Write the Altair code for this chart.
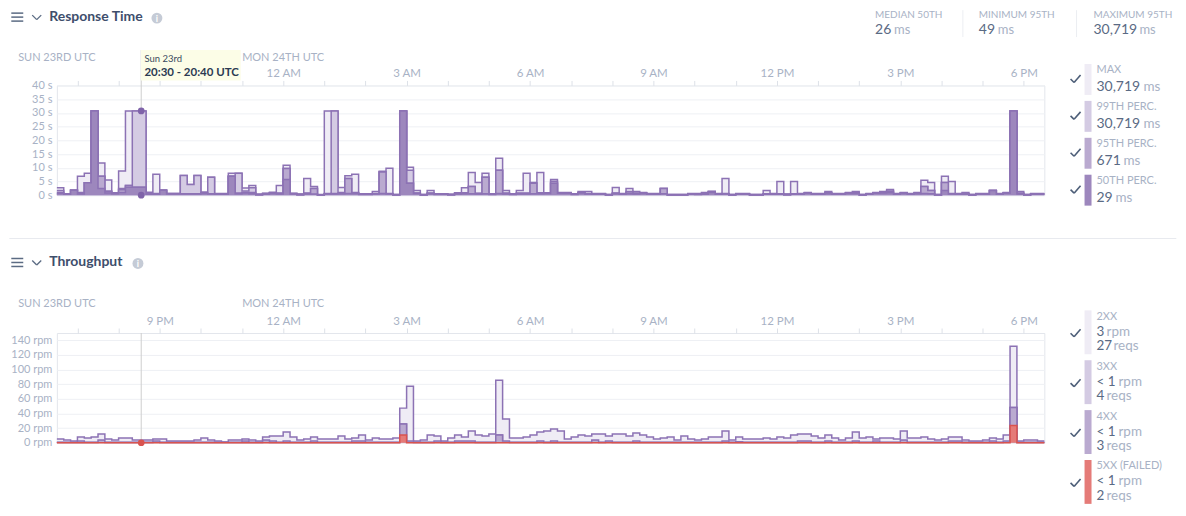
import altair as alt
import pandas as pd

# ---------------- data ----------------
START = "2024-06-23T18:30:00Z"
N_BINS = 144
BIN_MIN = 10

RT_MAX = [2.7, 0.5, 1.8, 6.9, 8.0, 30.7, 11.7, 5.5, 0.9, 8.8,
          30.7, 30.7, 30.7, 1.1, 7.6, 1.8, 0.6, 0.6, 7.2, 3.9,
          7.2, 1.1, 6.5, 0.6, 0.6, 8.0, 8.0, 2.6, 3.5, 0.3,
          0.7, 1.1, 3.5, 10.9, 0.7, 0.4, 6.1, 3.2, 0.2, 30.7,
          30.7, 2.8, 7.1, 7.6, 0.5, 0.5, 1.3, 8.7, 9.8, 0.2,
          30.7, 10.2, 1.7, 0.2, 1.7, 0.5, 0.5, 0.3, 0.9, 2.7,
          8.3, 4.6, 8.0, 0.5, 13.5, 1.7, 0.5, 1.7, 8.0, 4.6,
          8.3, 0.9, 5.7, 1.0, 1.0, 0.5, 1.3, 1.3, 0.6, 0.6,
          0.2, 2.8, 0.6, 2.4, 1.3, 1.0, 0.6, 0.6, 2.4, 0.2,
          0.2, 0.2, 0.6, 0.6, 1.0, 1.3, 0.6, 6.1, 0.2, 0.6,
          0.6, 0.2, 0.2, 1.7, 0.6, 5.0, 0.4, 5.0, 0.6, 1.0,
          0.6, 0.6, 1.3, 0.6, 0.6, 1.0, 1.3, 0.2, 0.6, 1.0,
          1.3, 2.1, 0.6, 1.0, 0.6, 1.0, 5.4, 4.6, 0.2, 6.9,
          5.0, 0.6, 1.0, 0.2, 0.6, 0.6, 1.7, 0.6, 1.0, 30.7,
          1.3, 0.2, 0.6, 0.6]
RT_P99 = [1.7, 0.4, 1.8, 1.0, 4.5, 30.7, 6.9, 1.5, 0.8, 2.4,
          3.5, 30.7, 30.7, 0.6, 0.6, 1.8, 0.6, 0.6, 7.2, 3.9,
          7.2, 1.1, 6.5, 0.5, 0.5, 6.9, 8.0, 1.5, 2.7, 0.3,
          0.6, 0.9, 0.8, 9.7, 0.6, 0.3, 0.8, 2.4, 0.1, 0.6,
          30.7, 1.0, 6.1, 1.0, 0.4, 0.4, 0.6, 8.4, 0.6, 0.2,
          30.7, 9.1, 0.8, 0.2, 0.8, 0.4, 0.4, 0.2, 0.7, 0.9,
          3.2, 0.7, 6.5, 0.4, 9.1, 0.8, 0.4, 0.8, 0.8, 4.3,
          0.9, 0.8, 5.1, 0.9, 0.9, 0.4, 1.0, 0.6, 0.5, 0.5,
          0.2, 0.8, 0.5, 1.3, 0.8, 0.9, 0.5, 0.5, 2.4, 0.2,
          0.2, 0.2, 0.5, 0.4, 0.6, 1.3, 0.5, 0.6, 0.2, 0.5,
          0.5, 0.2, 0.2, 0.5, 0.5, 0.5, 0.3, 0.5, 0.5, 0.9,
          0.5, 0.5, 0.9, 0.5, 0.5, 0.9, 0.9, 0.2, 0.5, 0.9,
          1.0, 1.5, 0.5, 0.9, 0.5, 0.8, 3.2, 1.7, 0.2, 4.6,
          0.6, 0.5, 0.6, 0.2, 0.5, 0.5, 1.7, 0.5, 0.9, 30.7,
          0.8, 0.2, 0.5, 0.5]
RT_P95 = [1.0, 0.4, 1.8, 0.7, 4.5, 30.7, 6.9, 1.2, 0.7, 2.0,
          3.5, 2.9, 2.9, 0.5, 0.5, 1.8, 0.5, 0.5, 0.5, 0.5,
          0.5, 0.8, 0.5, 0.4, 0.4, 6.9, 0.8, 1.0, 1.0, 0.2,
          0.5, 0.8, 0.6, 9.7, 0.5, 0.2, 0.6, 2.4, 0.1, 0.5,
          0.6, 0.8, 6.1, 0.9, 0.3, 0.3, 0.5, 8.4, 0.5, 0.1,
          30.7, 4.3, 0.7, 0.1, 0.7, 0.3, 0.3, 0.2, 0.6, 0.7,
          3.2, 0.6, 6.5, 0.3, 9.1, 0.6, 0.3, 0.6, 0.6, 4.3,
          0.7, 0.7, 4.3, 0.8, 0.8, 0.3, 0.9, 0.5, 0.4, 0.4,
          0.1, 0.7, 0.4, 0.8, 0.6, 0.8, 0.4, 0.4, 2.4, 0.1,
          0.1, 0.1, 0.4, 0.3, 0.5, 1.3, 0.4, 0.5, 0.1, 0.4,
          0.4, 0.1, 0.1, 0.4, 0.4, 0.4, 0.2, 0.4, 0.4, 0.8,
          0.4, 0.4, 0.7, 0.4, 0.4, 0.8, 0.8, 0.1, 0.4, 0.8,
          0.9, 1.3, 0.4, 0.8, 0.4, 0.7, 3.2, 1.7, 0.1, 4.6,
          0.5, 0.4, 0.5, 0.1, 0.4, 0.4, 1.7, 0.4, 0.8, 30.7,
          0.6, 0.1, 0.4, 0.4]
RT_P50 = [0.6, 0.3, 1.8, 0.4, 4.5, 30.7, 2.4, 0.8, 0.5, 1.0,
          2.9, 2.9, 2.9, 0.3, 0.3, 1.8, 0.4, 0.4, 0.4, 0.4,
          0.4, 0.6, 0.4, 0.3, 0.3, 6.9, 0.5, 0.8, 0.5, 0.1,
          0.3, 0.6, 0.4, 5.7, 0.4, 0.1, 0.4, 0.4, 0.1, 0.4,
          0.4, 0.5, 0.6, 0.6, 0.2, 0.2, 0.4, 0.6, 0.4, 0.1,
          30.7, 4.3, 0.6, 0.1, 0.5, 0.2, 0.2, 0.1, 0.4, 0.5,
          0.5, 0.4, 0.5, 0.2, 0.6, 0.4, 0.2, 0.4, 0.4, 0.5,
          0.5, 0.6, 4.3, 0.7, 0.7, 0.2, 0.8, 0.4, 0.3, 0.3,
          0.1, 0.5, 0.3, 0.5, 0.4, 0.6, 0.3, 0.3, 0.5, 0.1,
          0.1, 0.1, 0.3, 0.2, 0.3, 1.0, 0.3, 0.4, 0.1, 0.3,
          0.3, 0.1, 0.1, 0.3, 0.3, 0.3, 0.1, 0.3, 0.3, 0.7,
          0.3, 0.3, 0.5, 0.3, 0.3, 0.6, 0.6, 0.1, 0.3, 0.7,
          0.8, 0.9, 0.3, 0.6, 0.3, 0.5, 0.6, 0.5, 0.1, 1.7,
          0.4, 0.3, 0.3, 0.1, 0.3, 0.3, 1.7, 0.3, 0.7, 30.7,
          0.4, 0.1, 0.3, 0.3]

TP_2XX = [5.0, 3.6, 2.3, 7.7, 6.4, 7.7, 11.8, 5.0, 3.6, 6.4,
          6.4, 3.6, 3.6, 3.6, 5.0, 5.0, 2.3, 2.3, 2.3, 2.3,
          3.6, 6.4, 3.6, 2.3, 0.9, 3.6, 3.6, 5.0, 3.6, 2.3,
          7.7, 9.1, 9.1, 14.5, 7.7, 3.6, 5.0, 7.7, 5.0, 5.0,
          5.0, 9.1, 5.0, 6.4, 10.5, 3.6, 6.4, 5.0, 5.0, 6.4,
          47.3, 77.3, 2.3, 3.6, 10.5, 9.1, 2.3, 6.4, 10.5, 7.7,
          15.9, 10.5, 9.1, 11.8, 85.5, 32.3, 6.4, 6.4, 7.7, 10.5,
          14.5, 15.9, 18.6, 15.9, 5.0, 7.7, 10.5, 9.1, 11.8, 11.8,
          9.1, 11.8, 11.8, 9.1, 13.2, 10.5, 7.7, 5.0, 6.4, 7.7,
          3.6, 9.1, 5.0, 3.6, 5.0, 7.7, 7.7, 15.9, 3.6, 7.7,
          5.0, 5.0, 5.0, 6.4, 5.0, 7.7, 6.4, 10.5, 11.8, 11.8,
          9.1, 6.4, 10.5, 6.4, 3.6, 6.4, 14.5, 6.4, 7.7, 5.0,
          6.4, 6.4, 5.0, 15.9, 6.4, 6.4, 7.7, 5.0, 3.6, 5.0,
          7.7, 7.7, 3.6, 2.3, 2.3, 3.6, 6.4, 5.0, 10.5, 131.8,
          2.3, 3.6, 3.6, 2.3]
TP_3XX = [0.8, 0.8, 0.8, 2.3, 0.8, 0.8, 0.8, 0.8, 0.8, 0.8,
          0.8, 0.8, 0.8, 0.8, 0.8, 0.8, 0.8, 0.8, 0.8, 0.8,
          0.8, 0.8, 0.8, 0.8, 0.8, 0.8, 0.8, 2.3, 0.8, 0.8,
          0.8, 2.3, 0.8, 2.3, 0.8, 0.8, 0.8, 2.3, 0.8, 0.8,
          0.8, 0.8, 0.8, 2.3, 2.3, 0.8, 0.8, 0.8, 0.8, 0.8,
          25.5, 0.8, 0.8, 0.8, 0.8, 0.8, 0.8, 0.8, 0.8, 0.8,
          0.8, 0.8, 0.8, 0.8, 10.5, 0.8, 0.8, 0.8, 0.8, 0.8,
          0.8, 0.8, 2.3, 0.8, 0.8, 0.8, 0.8, 0.8, 0.8, 0.8,
          0.8, 0.8, 0.8, 0.8, 2.3, 0.8, 0.8, 0.8, 0.8, 0.8,
          0.8, 0.8, 0.8, 0.8, 0.8, 0.8, 0.8, 0.8, 0.8, 1.5,
          0.8, 0.8, 0.8, 0.8, 0.8, 0.8, 0.8, 0.8, 0.8, 0.8,
          0.8, 0.8, 0.8, 0.8, 0.8, 0.8, 0.8, 0.8, 0.8, 2.3,
          0.8, 0.8, 0.8, 0.8, 0.8, 0.8, 0.8, 0.8, 0.8, 0.8,
          0.8, 0.8, 0.8, 0.8, 0.8, 0.8, 2.3, 0.8, 0.8, 48.2,
          0.8, 0.8, 0.8, 0.8]
TP_4XX = [0.4, 0.4, 0.4, 0.4, 0.4, 0.4, 3.6, 0.4, 0.4, 0.4,
          0.4, 0.4, 0.4, 0.4, 2.3, 0.4, 0.4, 0.4, 0.4, 0.4,
          0.4, 0.4, 0.4, 0.4, 0.4, 0.4, 0.4, 0.4, 0.4, 0.4,
          3.6, 0.4, 0.4, 0.4, 0.4, 0.4, 0.4, 0.4, 0.4, 0.4,
          0.4, 0.4, 0.4, 0.4, 0.4, 0.4, 0.4, 0.4, 0.4, 0.4,
          25.5, 2.3, 0.4, 0.4, 0.4, 2.3, 0.4, 0.4, 2.3, 2.3,
          2.3, 0.4, 0.4, 0.4, 10.5, 2.3, 0.4, 0.4, 0.4, 0.4,
          2.3, 0.4, 0.4, 0.4, 0.4, 0.4, 0.4, 0.4, 3.6, 0.4,
          2.3, 0.4, 0.4, 0.4, 0.4, 0.4, 0.4, 0.4, 0.4, 0.4,
          0.4, 0.4, 0.4, 0.4, 0.4, 0.4, 0.4, 2.3, 0.4, 0.4,
          0.4, 0.4, 0.4, 0.4, 0.4, 0.4, 0.4, 0.4, 2.3, 2.3,
          0.4, 0.4, 2.3, 0.4, 0.4, 0.4, 2.3, 0.4, 0.4, 0.4,
          0.4, 0.4, 0.4, 3.6, 0.4, 0.4, 0.4, 0.4, 0.4, 0.4,
          2.3, 2.3, 0.4, 0.4, 0.4, 0.4, 0.4, 0.4, 2.3, 48.2,
          0.4, 0.4, 0.4, 0.4]
TP_5XX = [0.0] * 50 + [10.5] + [0.0] * 88 + [23.6] + [0.0] * 4

HOVER_T = "2024-06-23T20:33:00Z"
HOVER_BIN = 12

RT_LEGEND = [("MAX", "30,719", "ms"), ("99TH PERC.", "30,719", "ms"),
             ("95TH PERC.", "671", "ms"), ("50TH PERC.", "29", "ms")]
TP_LEGEND = [("2XX", "3", "rpm", "27", "reqs"), ("3XX", "< 1", "rpm", "4", "reqs"),
             ("4XX", "< 1", "rpm", "3", "reqs"), ("5XX (FAILED)", "< 1", "rpm", "2", "reqs")]
STATS = [("MEDIAN 50TH", "26", "ms"), ("MINIMUM 95TH", "49", "ms"), ("MAXIMUM 95TH", "30,719", "ms")]

# ---------------- tables ----------------
t0 = pd.Timestamp(START)
times = [t0 + pd.Timedelta(minutes=BIN_MIN * i) for i in range(N_BINS + 1)]
tstr = [t.strftime("%Y-%m-%dT%H:%M:%SZ") for t in times]


def table(cols):
    d = {"t": tstr}
    for k, v in cols.items():
        d[k] = list(v) + [v[-1]]
    return pd.DataFrame(d)


rt = table({"mx": RT_MAX, "p99": RT_P99, "p95": RT_P95, "p50": RT_P50})
tp = table({"s2": TP_2XX, "s3": TP_3XX, "s4": TP_4XX, "s5": TP_5XX})

T0 = int(times[0].value // 10**6)
T1 = int(times[-1].value // 10**6)
HOURS = [int((t0 + pd.Timedelta(minutes=30 + 60 * h)).value // 10**6) for h in range(24)]
midnight = "2024-06-24T00:00:00Z"
dates = pd.DataFrame({"t": [tstr[0], midnight], "lab": ["SUN 23RD UTC", "MON 24TH UTC"]})

# ---------------- style ----------------
FONT = "Lato"
C_TITLE = "#3e4e6c"
C_VAL = "#5a6a84"
C_LIGHT = "#a8b2c5"
C_GRID = "#eef0f4"
C_CHECK = "#4d5e78"
STROKE = "#8c72b4"
F_MAX, F_99, F_95, F_50 = "#efecf5", "#d4cbe3", "#baaad0", "#9d87bd"
F_5XX, S_5XX = "#e57b78", "#d9534f"

OX = 55.7
OY1 = 83.5
OY2 = 331.7
W = 990
H = 110

ONE = pd.DataFrame({"k": [0]})
XS = alt.Scale(type="utc", domain=[T0, T1])


def xaxis(skip21):
    cond = "utchours(datum.value) % 3 == 0"
    if skip21:
        cond += " && utchours(datum.value) != 21"
    return alt.Axis(orient="top", values=HOURS, domain=False, grid=False, tickSize=5,
                    tickColor="#dde1e8", labelPadding=2, labelColor=C_LIGHT, labelFont=FONT,
                    labelFontSize=11.5, labelFlush=False, labelOverlap=False, title=None,
                    labelExpr="(" + cond + ") ? utcFormat(datum.value, '%-I %p') : ''")


def yaxis(vals, unit):
    return alt.Axis(values=vals, ticks=False, domain=False, labelPadding=5, grid=True,
                    gridColor=C_GRID, labelColor=C_LIGHT, labelFont=FONT, labelFontSize=11,
                    labelFlush=False, labelOverlap=False, title=None,
                    labelExpr="datum.value + ' " + unit + "'")


def T(x, y, s, oy, size=11, color=C_LIGHT, weight="normal", align="left", baseline="middle",
      font=FONT):
    return alt.Chart(ONE).mark_text(text=s, fontSize=size, color=color, fontWeight=weight,
                                    align=align, baseline=baseline, font=font).encode(
        x=alt.value(x - OX), y=alt.value(y - oy))


def R(x1, y1, x2, y2, oy, color, w=1.0):
    return alt.Chart(ONE).mark_rule(color=color, strokeWidth=w).encode(
        x=alt.value(x1 - OX), y=alt.value(y1 - oy), x2=alt.value(x2 - OX), y2=alt.value(y2 - oy))


def RECT(x1, y1, x2, y2, oy, color, opacity=1.0):
    return alt.Chart(ONE).mark_rect(color=color, opacity=opacity).encode(
        x=alt.value(x1 - OX), y=alt.value(y1 - oy), x2=alt.value(x2 - OX), y2=alt.value(y2 - oy))


def DOT(x, y, oy, color, size):
    return alt.Chart(ONE).mark_circle(color=color, size=size, opacity=1).encode(
        x=alt.value(x - OX), y=alt.value(y - oy))


def CHECK(x, y, oy):
    return [R(x - 5, y, x - 1.5, y + 3.5, oy, C_CHECK, 1.6),
            R(x - 1.5, y + 3.5, x + 5, y - 4, oy, C_CHECK, 1.6)]


def header(title, ty, info_x, oy):
    c = "#5b6b83"
    return [R(10, ty - 4, 22, ty - 4, oy, c, 1.5),
            R(10, ty, 22, ty, oy, c, 1.5),
            R(10, ty + 4, 22, ty + 4, oy, c, 1.5),
            R(31, ty - 2, 35.5, ty + 2.5, oy, c, 1.3),
            R(35.5, ty + 2.5, 40, ty - 2, oy, c, 1.3),
            T(48, ty, title, oy, size=14, color=C_TITLE, weight="bold"),
            DOT(info_x, ty + 1, oy, "#c5cbd6", 120),
            T(info_x, ty + 1.5, "i", oy, size=9, color="white", weight="bold", align="center")]


class Panel:
    def __init__(self, skip21, yscale, yvals, unit):
        self.X = alt.X("t:T", scale=XS, axis=xaxis(skip21), title=None)
        self.ys = yscale
        self.yax = yaxis(yvals, unit)

    def Y(self, field):
        return alt.Y(field + ":Q", scale=self.ys, axis=self.yax, title=None)

    def series(self, df, field, fill, stroke, sw=1.5):
        a = alt.Chart(df).mark_area(interpolate="step-after", color=fill, opacity=1).encode(
            x=self.X, y=self.Y(field))
        l = alt.Chart(df).mark_line(interpolate="step-after", color=stroke, strokeWidth=sw).encode(
            x=self.X, y=self.Y(field))
        return [a, l]


# ---------------- top panel ----------------
P1 = Panel(True, alt.Scale(domain=[0, 40], nice=False), list(range(0, 41, 5)), "s")
hover = pd.DataFrame({"t": [HOVER_T, HOVER_T], "v": [RT_P99[HOVER_BIN], 0]})
hover_t = pd.DataFrame({"t": [HOVER_T]})

top_layers = []
top_layers.append(alt.Chart(hover_t).mark_rule(color="#cfcfcf", strokeWidth=1).encode(
    x=P1.X, y=alt.value(48 - OY1), y2=alt.value(H)))
top_layers += P1.series(rt, "mx", F_MAX, STROKE)
top_layers += P1.series(rt, "p99", F_99, STROKE)
top_layers += P1.series(rt, "p95", F_95, STROKE)
top_layers += P1.series(rt, "p50", F_50, STROKE)
top_layers.append(alt.Chart(hover).mark_circle(color="#7f63a9", size=45, opacity=1).encode(
    x=P1.X, y=P1.Y("v")))
top_layers.append(alt.Chart(dates).mark_text(fontSize=11, color=C_LIGHT, font=FONT).encode(
    x=P1.X, y=alt.value(56 - OY1), text="lab:N"))
# tooltip
top_layers.append(RECT(140, 48, 240, 78.5, OY1, "#fcfde7"))
top_layers.append(T(143.5, 57, "Sun 23rd", OY1, size=9.5, color="#3a4a60"))
top_layers.append(T(143.5, 71, "20:30 - 20:40 UTC", OY1, size=11.5, color="#2b3a52", weight="bold"))
# header
top_layers += header("Response Time", 15, 156, OY1)
stat_x = [876, 980, 1095]
unit_dx = [19, 19, 46]
for (lab, val, unit), sx, dx in zip(STATS, stat_x, unit_dx):
    top_layers.append(T(sx, 8, lab, OY1, size=10, baseline="top"))
    top_layers.append(T(sx, 27.5, val, OY1, size=14, color=C_VAL))
    top_layers.append(T(sx + dx, 27.5, unit, OY1, size=13, color=C_LIGHT))
top_layers.append(R(964, 8, 964, 35, OY1, "#eceef2"))
top_layers.append(R(1078, 8, 1078, 35, OY1, "#eceef2"))
# legend
rt_sw = [F_MAX, F_99, F_95, F_50]
rt_unit_x = [1145, 1145, 1125, 1117]
for i, ((lab, val, unit), c, ux) in enumerate(zip(RT_LEGEND, rt_sw, rt_unit_x)):
    y0 = 62 + 37 * i
    top_layers.append(RECT(1086, y0, 1093, y0 + 31, OY1, c))
    top_layers += CHECK(1077, y0 + 15, OY1)
    top_layers.append(T(1098, y0 + 6.5, lab, OY1, size=11))
    top_layers.append(T(1098, y0 + 23, val, OY1, size=14, color=C_VAL))
    top_layers.append(T(ux, y0 + 23, unit, OY1, size=13.5, color=C_LIGHT))
# layout anchor (invisible)
top_layers.append(RECT(8, 8, 9, 9, OY1, "white", opacity=0))

top = alt.layer(*top_layers).properties(width=W, height=H)

# ---------------- bottom panel ----------------
P2 = Panel(False, alt.Scale(domain=[0, 150], nice=False), list(range(0, 141, 20)), "rpm")
red = pd.DataFrame({"t": [HOVER_T], "v": [TP_5XX[HOVER_BIN]]})

bot_layers = []
bot_layers.append(alt.Chart(hover_t).mark_rule(color="#cfcfcf", strokeWidth=1).encode(
    x=P2.X, y=alt.value(0), y2=alt.value(H)))
bot_layers += P2.series(tp, "s2", F_MAX, STROKE)
bot_layers += P2.series(tp, "s3", F_99, STROKE)
bot_layers += P2.series(tp, "s4", F_95, STROKE)
bot_layers += P2.series(tp, "s5", F_5XX, S_5XX)
bot_layers.append(alt.Chart(red).mark_circle(color=S_5XX, size=45, opacity=1).encode(
    x=P2.X, y=P2.Y("v")))
bot_layers.append(alt.Chart(dates).mark_text(fontSize=11, color=C_LIGHT, font=FONT).encode(
    x=P2.X, y=alt.value(303 - OY2), text="lab:N"))
bot_layers.append(R(8, 237, 1178, 237, OY2, "#e8eaef"))
bot_layers += header("Throughput", 261, 137, OY2)
tp_sw = [F_MAX, F_99, F_95, F_5XX]
rate_unit_x = [1108, 1120, 1120, 1120]
req_unit_x = [1115, 1108, 1108, 1108]
for i, ((lab, rate, ru, req, qu), c, rx, qx) in enumerate(zip(TP_LEGEND, tp_sw, rate_unit_x, req_unit_x)):
    y0 = 309 + 50 * i
    bot_layers.append(RECT(1086, y0, 1093, y0 + 44, OY2, c))
    bot_layers += CHECK(1077, y0 + 23, OY2)
    bot_layers.append(T(1098, y0 + 6.5, lab, OY2, size=11))
    bot_layers.append(T(1098, y0 + 21.5, rate, OY2, size=13.5, color=C_VAL))
    bot_layers.append(T(rx, y0 + 21.5, ru, OY2, size=13.5, color=C_LIGHT))
    bot_layers.append(T(1098, y0 + 36, req, OY2, size=13.5, color=C_VAL))
    bot_layers.append(T(qx, y0 + 36, qu, OY2, size=13.5, color=C_LIGHT))

bottom = alt.layer(*bot_layers).properties(width=W, height=H)

chart = alt.vconcat(top, bottom, spacing=OY2 - OY1 - H, bounds="flush").properties(
    padding=0
).configure(font=FONT).configure_view(stroke="#e3e6ec", strokeWidth=1)

chart.save("out.html", embed_options={"renderer": "svg", "actions": False})
